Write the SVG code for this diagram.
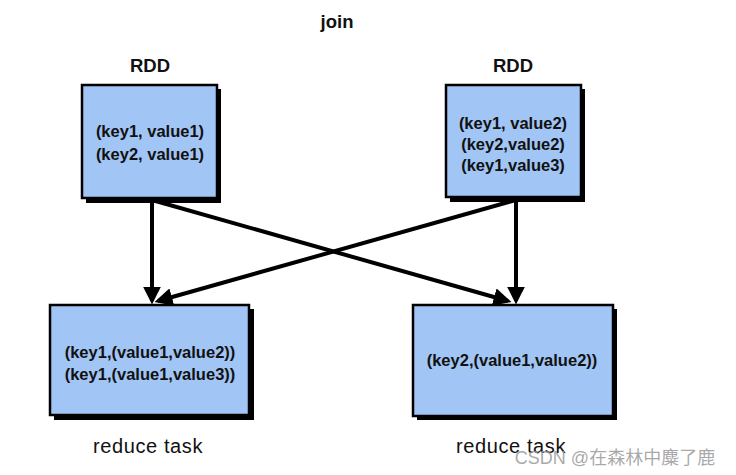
<svg xmlns="http://www.w3.org/2000/svg" width="736" height="475" viewBox="0 0 736 475">
<defs>
<style>
.box{fill:#a1c5f5;stroke:#000;stroke-width:2.5}
.shadow{fill:#000}
.t{font-family:"Liberation Sans",Arial,sans-serif;font-weight:bold;font-size:16.5px;fill:#111;text-anchor:middle}
.h{font-family:"Liberation Sans",Arial,sans-serif;font-weight:bold;font-size:18.5px;fill:#111;text-anchor:middle}
.l{font-family:"Liberation Sans",Arial,sans-serif;font-size:20px;letter-spacing:0.6px;fill:#111;text-anchor:middle}
.edge{stroke:#000;stroke-width:4;fill:none;marker-end:url(#arr)}
</style>
<marker id="arr" viewBox="0 0 10 10" refX="8" refY="5" markerWidth="4.5" markerHeight="4.5" orient="auto">
<path d="M0,0 L10,5 L0,10 z" fill="#000"/>
</marker>
</defs>
<rect width="736" height="475" fill="#fff"/>
<text class="h" x="337" y="28">join</text>
<g id="connectors">
<line class="edge" x1="152" y1="200" x2="152" y2="301"/>
<line class="edge" x1="152" y1="200" x2="508" y2="301"/>
<line class="edge" x1="516" y1="200" x2="516" y2="301"/>
<line class="edge" x1="516" y1="200" x2="158" y2="301"/>
</g>
<g id="rdd1">
<text class="h" x="150" y="72">RDD</text>
<rect class="shadow" x="86" y="89" width="135" height="114"/>
<rect class="box" x="82" y="85" width="135" height="113"/>
<text class="t" x="150" y="137">(key1, value1)</text>
<text class="t" x="150" y="160">(key2, value1)</text>
</g>
<g id="rdd2">
<text class="h" x="513" y="72">RDD</text>
<rect class="shadow" x="450" y="89" width="135" height="113"/>
<rect class="box" x="446" y="85" width="135" height="112"/>
<text class="t" x="513" y="129">(key1, value2)</text>
<text class="t" x="513" y="150">(key2,value2)</text>
<text class="t" x="513" y="171">(key1,value3)</text>
</g>
<g id="task1">
<rect class="shadow" x="54" y="309" width="200" height="111"/>
<rect class="box" x="50" y="305" width="199" height="110"/>
<text class="t" x="150" y="358">(key1,(value1,value2))</text>
<text class="t" x="150" y="380">(key1,(value1,value3))</text>
<text class="l" x="148" y="453">reduce task</text>
</g>
<g id="task2">
<rect class="shadow" x="417" y="309" width="200" height="111"/>
<rect class="box" x="413" y="305" width="200" height="111"/>
<text class="t" x="512" y="366">(key2,(value1,value2))</text>
<text class="l" x="511" y="453">reduce task</text>
</g>
<text x="615" y="464" font-family="'Liberation Sans','Noto Sans CJK SC',sans-serif" font-size="18" fill="#999" fill-opacity="0.85" text-anchor="middle">CSDN @在森林中麋了鹿</text>
</svg>
